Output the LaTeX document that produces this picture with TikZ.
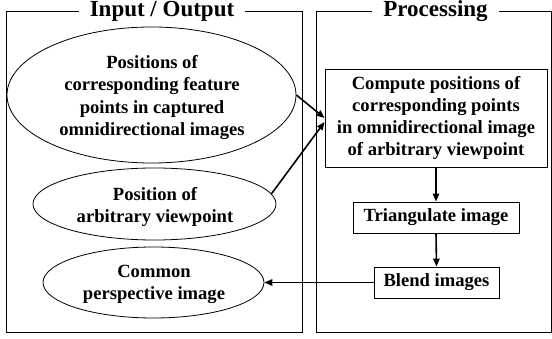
\documentclass[tikz,border=0pt]{standalone}
\usepackage{fontspec}
\setmainfont{Liberation Serif}
\usetikzlibrary{shapes.geometric,arrows.meta}
\begin{document}
\begin{tikzpicture}[x=1pt,y=-1pt,
  panel/.style={draw,line width=0.9pt},
  oval/.style={draw,ellipse,line width=0.8pt,inner sep=0pt},
  lbl/.style={font=\bfseries\fontsize{18.6}{22.3}\selectfont,align=center,inner sep=0pt},
  stepbox/.style={draw,line width=0.9pt,font=\bfseries\fontsize{18.6}{22.3}\selectfont,align=center,inner sep=0pt},
  title/.style={fill=white,font=\bfseries\fontsize{23}{27}\selectfont,inner xsep=11pt,inner ysep=1pt},
  arr/.style={line width=1.6pt,-{Triangle[length=8pt,width=6.5pt]}}
]
\useasboundingbox (0,0) rectangle (552,339);
\draw[panel] (6,11) rectangle (302,332);
\draw[panel] (316,11) rectangle (551,332);
\node[title, anchor=base] (tio) at (162,17) {Input / Output};
\node[title, anchor=base] (tpr) at (435.5,17) {Processing};

\node[oval, minimum width=289, minimum height=136] (e1) at (151.5,95) {};
\node[lbl] (e1t) at (152,97.5) {Positions of\\corresponding feature\\points in captured\\omnidirectional images};
\node[oval, minimum width=243, minimum height=72] (e2) at (154.5,204) {};
\node[lbl] (e2t) at (155,207) {Position of\\arbitrary viewpoint};
\node[oval, minimum width=221, minimum height=71] (e3) at (153.5,282.5) {};
\node[lbl] (e3t) at (154,284.5) {Common\\perspective image};

\node[stepbox, minimum width=222, minimum height=98] (b1) at (436,118) {Compute positions of\\corresponding points\\in omnidirectional image\\of arbitrary viewpoint};
\node[stepbox, minimum width=166, minimum height=31] (b2) at (436,217.5) {Triangulate image};
\node[stepbox, minimum width=125, minimum height=31] (b3) at (436.5,282.5) {Blend images};

\draw[arr] (e1.east) -- (b1.west);
\draw[arr] (e2.5) -- ([yshift=-4pt]b1.west);
\draw[arr] (b1.south) -- (b2.north);
\draw[arr] (b2.south) -- (b3.north);
\draw[arr] (b3.west) -- (e3.east);
\end{tikzpicture}
\end{document}
